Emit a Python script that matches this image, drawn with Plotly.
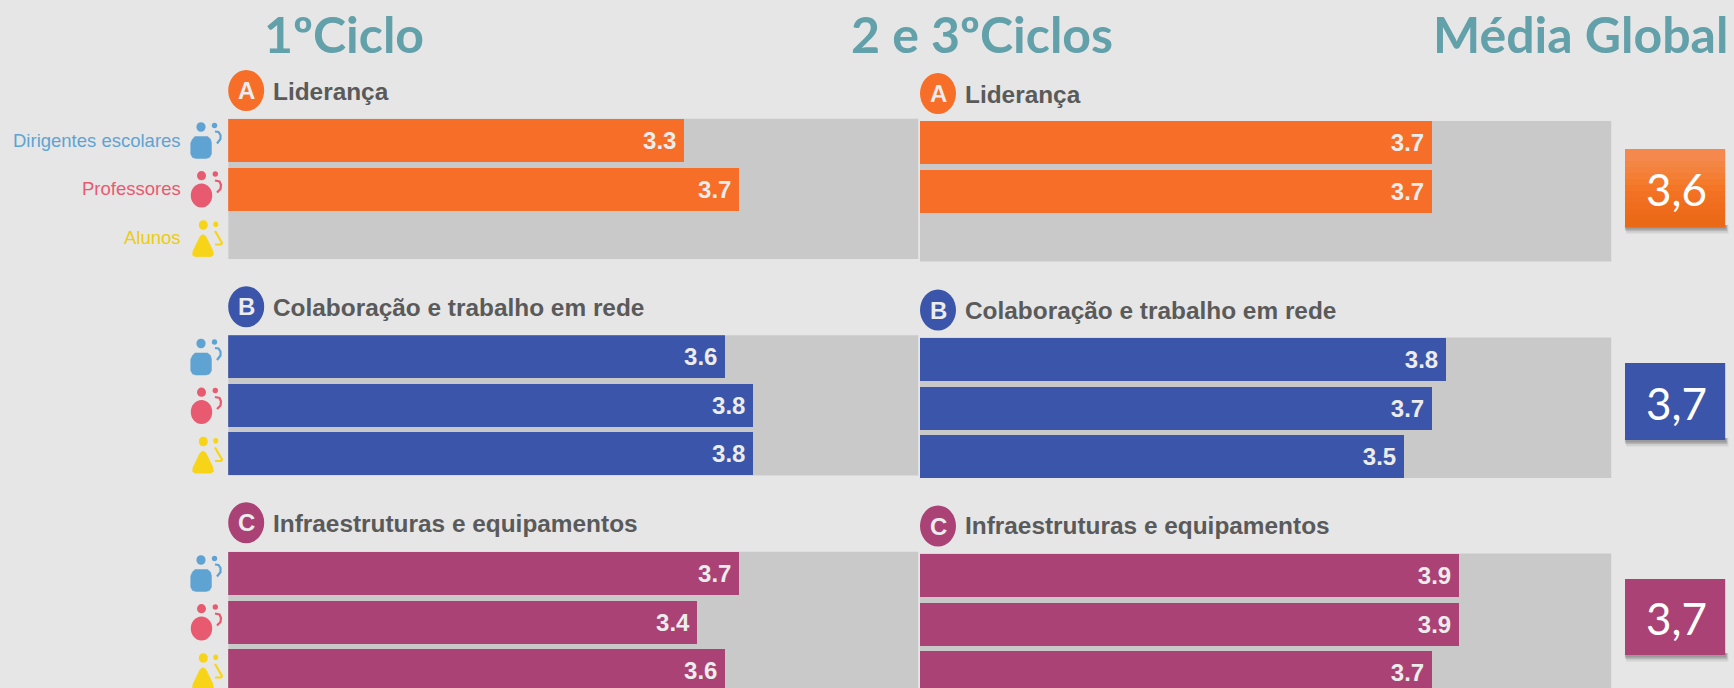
import plotly.graph_objects as go

W, H = 1734, 688
BG = "#e6e6e6"
TRACK = "#c9c9c9"
TEAL = "#62a0aa"
GREY = "#5a5a5a"
SANS = "Liberation Sans, sans-serif"
LATO = "Lato, Open Sans, sans-serif"

column_titles = ["1ºCiclo", "2 e 3ºCiclos", "Média Global"]
groups = ["Liderança", "Colaboração e trabalho em rede", "Infraestruturas e equipamentos"]
letters = ["A", "B", "C"]
colors = ["#f76e28", "#3a55a9", "#aa4275"]
respondents = ["Dirigentes escolares", "Professores", "Alunos"]
respondent_colors = ["#5fa3d3", "#e85a70", "#eccb12"]
ciclo1 = [[3.3, 3.7, None], [3.6, 3.8, 3.8], [3.7, 3.4, 3.6]]
ciclo23 = [[3.7, 3.7, None], [3.8, 3.7, 3.5], [3.9, 3.9, 3.7]]
media = ["3,6", "3,7", "3,7"]


def px(x):
    return x / W


def py(y):
    return 1 - y / H


PITCH = 48.7
ROWS_H = 140.4
col_x = [(228.2, 918.5), (920, 1611.5)]
col_top = [[118.7, 335.2, 551.7], [121, 337.5, 553.5]]
head_y = [[91, 307.5, 523], [94, 310, 525.5]]
circ_y = [[90.5, 306.7, 522.7], [93.5, 310, 526]]
box_y = [(149, 227), (363, 440), (579, 655)]

fig = go.Figure()
layout = dict(
    width=W, height=H, margin=dict(l=0, r=0, t=0, b=0, pad=0),
    paper_bgcolor=BG, plot_bgcolor=BG, showlegend=False, barmode="overlay",
    bargap=0, font=dict(family=SANS),
)
shapes, annos = [], []

for c, (data, xr) in enumerate(zip([ciclo1, ciclo23], col_x)):
    xname = "x" if c == 0 else "x2"
    layout["xaxis" if c == 0 else "xaxis2"] = dict(
        domain=[px(xr[0]), px(xr[1])], range=[0, 5], visible=False, fixedrange=True,
        anchor="free", position=0,
    )
    for g in range(3):
        idx = c * 3 + g + 1
        yname = "y" if idx == 1 else f"y{idx}"
        top = col_top[c][g]
        bottom = min(top + ROWS_H, H)
        r0 = -21.5 / PITCH
        r1 = r0 + (bottom - top) / PITCH
        layout["yaxis" if idx == 1 else f"yaxis{idx}"] = dict(
            domain=[py(bottom), py(top)], range=[r1, r0], visible=False, fixedrange=True,
            anchor="free", position=0,
        )
        fig.add_trace(go.Bar(
            x=data[g], y=[0, 1, 2], orientation="h", xaxis=xname, yaxis=yname,
            width=43 / PITCH, marker=dict(color=colors[g], line=dict(width=0)),
            texttemplate="<b>%{x:.1f}\u2009</b>", textposition="inside", insidetextanchor="end",
            textangle=0, insidetextfont=dict(family=SANS, size=24, color="#ececec"),
            constraintext="none", hoverinfo="skip",
        ))
        shapes.append(dict(type="rect", layer="below", xref=xname, x0=0, x1=5,
                           yref=f"{yname} domain", y0=0, y1=1,
                           fillcolor=TRACK, line=dict(width=0)))
        # header circle + letter + name
        cx = xr[0] + 18
        cy = circ_y[c][g]
        shapes.append(dict(type="circle", xref="paper", yref="paper",
                           x0=px(cx - 18), x1=px(cx + 18), y0=py(cy + 20.5), y1=py(cy - 20.5),
                           fillcolor=colors[g], line=dict(width=0)))
        annos.append(dict(text=f"<b>{letters[g]}</b>", xref="paper", yref="paper", x=px(cx), y=py(cy),
                          showarrow=False, font=dict(family=SANS, size=24, color="#ececec"),
                          xanchor="center", yanchor="middle"))
        annos.append(dict(text=f"<b>{groups[g]}</b>", xref="paper", yref="paper",
                          x=px(xr[0] + 42.5), y=py(head_y[c][g]), showarrow=False,
                          font=dict(family=SANS, size=24.4, color=GREY),
                          xanchor="left", yanchor="middle"))

# respondent names next to the first group
for i, name in enumerate(respondents):
    annos.append(dict(text=name, xref="paper", yref="y", x=px(182.5), y=i, showarrow=False,
                      xanchor="right", yanchor="middle",
                      font=dict(family=SANS, size=18.5, color=respondent_colors[i])))


# respondent icons
def ell(cx, cy, rx, ry, color):
    shapes.append(dict(type="circle", xref="paper", yref="paper", x0=px(cx - rx), x1=px(cx + rx),
                       y0=py(cy + ry), y1=py(cy - ry), fillcolor=color, line=dict(width=0)))


def path(points, color, fill=None, width=2.2, close=False):
    d = "M " + " L ".join(f"{px(x):.5f},{py(y):.5f}" for x, y in points) + (" Z" if close else "")
    shapes.append(dict(type="path", xref="paper", yref="paper", path=d,
                       fillcolor=fill if fill else "rgba(0,0,0,0)",
                       line=dict(color=color, width=width)))


OFFSET = 216.5
DX = 1
for g in range(3):
    o = g * OFFSET
    b, r, y = respondent_colors[0], respondent_colors[1], "#f7d417"
    # manager
    ell(200 + DX, 127 + o, 4.6, 4.8, b)
    ell(213.5 + DX, 125.5 + o, 2.7, 2.8, b)
    path([(191.5 + DX, 139 + o), (194 + DX, 136.5 + o), (206.5 + DX, 136.5 + o), (209.5 + DX, 139 + o),
          (210.5 + DX, 143 + o), (210.5 + DX, 154 + o), (208.5 + DX, 157.5 + o), (205 + DX, 158.5 + o),
          (195 + DX, 158.5 + o), (191.5 + DX, 157.5 + o), (189.7 + DX, 154 + o), (189.7 + DX, 143 + o)],
         b, fill=b, width=0.5, close=True)
    path([(214 + DX, 131.5 + o), (217.5 + DX, 132 + o), (219.5 + DX, 135 + o), (219.5 + DX, 139 + o),
          (216 + DX, 143.5 + o)], b)
    # teacher
    ell(200.5 + DX, 175.7 + o, 4.5, 4.6, r)
    ell(214.3 + DX, 174 + o, 2.7, 2.8, r)
    ell(200.5 + DX, 195.5 + o, 10.7, 12, r)
    path([(214 + DX, 180.5 + o), (218.5 + DX, 181.5 + o), (220 + DX, 185 + o), (219.5 + DX, 189 + o),
          (216 + DX, 192.5 + o)], r)
    # student
    ell(202.3 + DX, 225 + o, 4.5, 4.8, y)
    ell(214.7 + DX, 224.3 + o, 2.5, 2.8, y)
    path([(202 + DX, 234.5 + o), (205 + DX, 236.5 + o), (212 + DX, 251 + o), (212.5 + DX, 255 + o),
          (210 + DX, 256.7 + o), (194 + DX, 256.7 + o), (191.5 + DX, 255 + o), (192 + DX, 251 + o),
          (199 + DX, 236.5 + o)], y, fill=y, width=0.5, close=True)
    path([(214 + DX, 231 + o), (221 + DX, 243 + o), (220 + DX, 244.5 + o), (214 + DX, 244.5 + o)], y)

# global average boxes
BX0, BX1 = 1625, 1725.2
for g, (y0, y1) in enumerate(box_y):
    for k, (off, op) in enumerate([(7, 0.06), (5.5, 0.10), (4, 0.16), (2.5, 0.22)]):
        shapes.append(dict(type="rect", xref="paper", yref="paper",
                           x0=px(BX0 - 1 + off / 3), x1=px(BX1 + off / 2), y0=py(y1 + off), y1=py(y1 - 2),
                           fillcolor="#404040", opacity=op, line=dict(width=0)))
    if g == 0:
        stops = ["#f5894d", "#f5894d", "#f48644", "#f4823c", "#f47e34", "#f47a2c", "#f37525", "#f37122",
                 "#f16f20", "#ef6d1d", "#ed6b1a", "#eb6a18", "#e96917"]
        h = (y1 - y0) / len(stops)
        for i, col in enumerate(stops):
            shapes.append(dict(type="rect", xref="paper", yref="paper", x0=px(BX0), x1=px(BX1),
                               y0=py(y0 + (i + 1) * h + 0.5), y1=py(y0 + i * h),
                               fillcolor=col, line=dict(width=0)))
    else:
        shapes.append(dict(type="rect", xref="paper", yref="paper", x0=px(BX0), x1=px(BX1),
                           y0=py(y1), y1=py(y0), fillcolor=colors[g], line=dict(width=0)))
    annos.append(dict(text=media[g], xref="paper", yref="paper", x=px((BX0 + BX1) / 2 + 1), y=py((y0 + y1) / 2 + 1),
                      showarrow=False, font=dict(family=LATO, size=44, color="white"),
                      xanchor="center", yanchor="middle"))

# column titles
for text, cx in zip(column_titles, [343.5, 982.5, 1580.5]):
    annos.append(dict(text=f"<b>{text}</b>", xref="paper", yref="paper", x=px(cx), y=py(33.5),
                      showarrow=False, font=dict(family=LATO, size=50, color=TEAL),
                      xanchor="center", yanchor="middle"))

fig.update_layout(**layout, shapes=shapes, annotations=annos)
fig.write_html("out.html", config=dict(displayModeBar=False),
               post_script="document.body.style.margin='0';document.body.style.background='%s';" % BG)
